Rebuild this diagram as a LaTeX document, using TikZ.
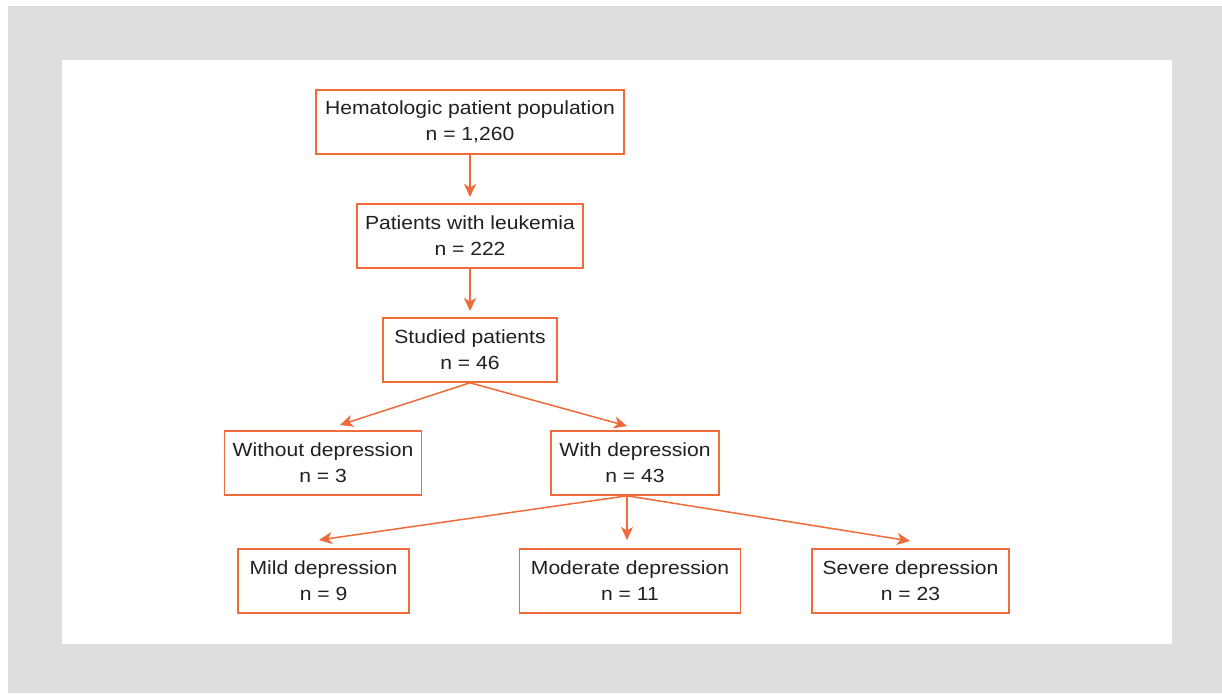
\documentclass[tikz,border=0pt]{standalone}
\usepackage{fontspec}
\setmainfont[FakeStretch=1.11]{Liberation Sans}
\usepackage{xcolor}
\usetikzlibrary{arrows.meta}
\definecolor{frameorange}{HTML}{F06A3A}
\definecolor{bggray}{HTML}{DCDDDF}
\definecolor{txtgray}{HTML}{231F20}

\begin{document}
\begin{tikzpicture}[x=1pt,y=-1pt,
    box/.style={draw=frameorange,line width=1.6pt,fill=white,inner sep=0pt,
      minimum height=64pt,align=center,text=txtgray,
      font=\fontsize{19}{26}\selectfont},
    arr/.style={draw=frameorange,line width=1.5pt,
      -{Stealth[length=13pt,width=12pt,inset=3.5pt]}}]
  \fill[white] (0,0) rectangle (1222,693);
  \fill[bggray] (8,6) rectangle (1222,693);
  \fill[white] (62,60) rectangle (1172,644);

  \node[box,minimum width=308pt] (hema) at (470,122) {Hematologic patient population\\n = 1,260};
  \node[box,minimum width=226pt] (leuk) at (470,236) {Patients with leukemia\\n = 222};
  \node[box,minimum width=174pt] (stud) at (470,350) {Studied patients\\n = 46};
  \node[box,minimum width=197pt] (without) at (323,463) {Without depression\\n = 3};
  \node[box,minimum width=168pt] (with) at (635,463) {With depression\\n = 43};
  \node[box,minimum width=171pt] (mild) at (323.5,581) {Mild depression\\n = 9};
  \node[box,minimum width=221pt] (moderate) at (630,581) {Moderate depression\\n = 11};
  \node[box,minimum width=197pt] (severe) at (910.5,581) {Severe depression\\n = 23};

  % arrow tips stop short of the boxes
  \coordinate (leukin) at (470,197);
  \coordinate (studin) at (470,311);
  \coordinate (withoutin) at (340,425);
  \coordinate (within) at (627,426);
  \coordinate (mildin) at (319,540);
  \coordinate (moderatein) at (627,540);
  \coordinate (severein) at (910,541);
  \coordinate (withfork) at ([xshift=-8pt]with.south);

  \draw[arr] (hema.south) -- (leukin);
  \draw[arr] (leuk.south) -- (studin);
  \draw[arr] (stud.south) -- (withoutin);
  \draw[arr] (stud.south) -- (within);
  \draw[arr] (withfork) -- (mildin);
  \draw[arr] (withfork) -- (moderatein);
  \draw[arr] (withfork) -- (severein);
\end{tikzpicture}
\end{document}
